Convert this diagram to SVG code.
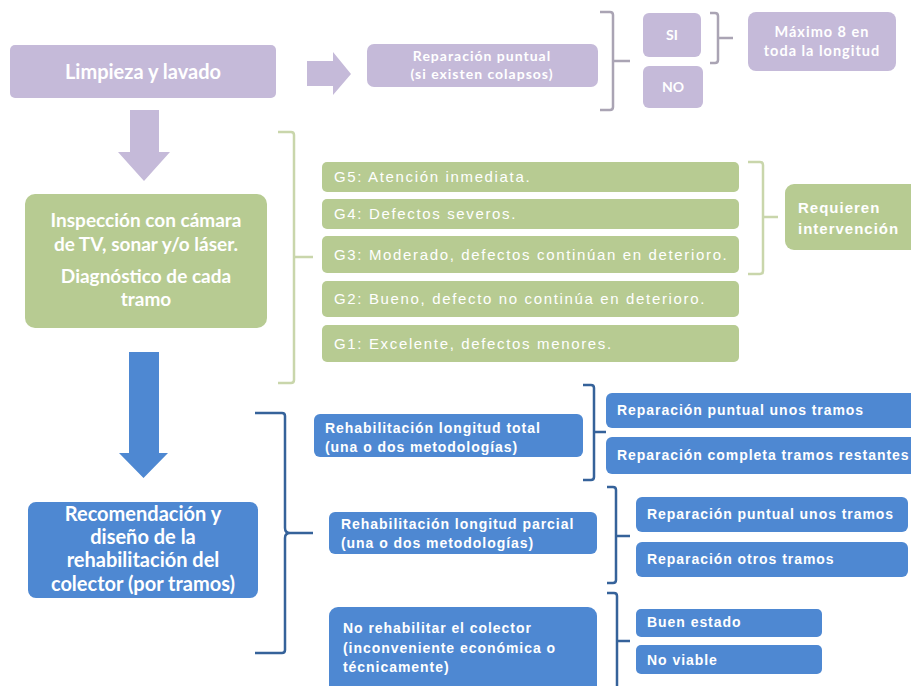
<svg xmlns="http://www.w3.org/2000/svg" width="911" height="686" viewBox="0 0 911 686">
<style>
.lav{fill:#c5bad9}
.grn{fill:#b7cb92}
.blu{fill:#4e88d2}
.t{font-family:Lato,"Liberation Sans",sans-serif;font-weight:bold;fill:#fff;text-anchor:middle}
.s{font-family:"Liberation Sans",Arial,sans-serif;font-weight:bold;fill:#fff;font-size:14px;letter-spacing:0.95px}
.g{font-family:"Liberation Sans",Arial,sans-serif;fill:#fff;font-size:15px;letter-spacing:1.65px}
.r{font-family:"Liberation Sans",Arial,sans-serif;font-weight:bold;fill:#fff;font-size:15px;letter-spacing:1px}
.br{fill:none;stroke-width:2.5;stroke-linejoin:round}
.bl{stroke:#aaa4b4}
.bg{stroke:#c9d6ab}
.bb{stroke:#35629a}
</style>
<rect width="911" height="686" fill="#fff"/>
<g id="connectors">
  <polygon class="lav" points="307,61 333,61 333,52 351,74 333,95 333,86 307,86"/>
  <polygon class="lav" points="130,110 159,110 159,152 170,152 144,181 118,152 130,152"/>
  <polygon class="blu" points="129,352 159,352 159,453 168,453 143.5,478 119,453 129,453"/>
  <path class="br bl" d="M600,12 H610 Q613,12 613,15 V107 Q613,110 610,110 H600 M613,61 H630"/>
  <path class="br bl" d="M710,13 H715 Q718,13 718,16 V60 Q718,63 715,63 H710 M718,38 H733"/>
  <path class="br bg" d="M278,132 H291 Q294,132 294,135 V380 Q294,383 291,383 H278 M294,257 H313"/>
  <path class="br bg" d="M748,162 H760 Q763,162 763,165 V271 Q763,274 760,274 H748 M763,217 H778"/>
  <path class="br bb" d="M255,413 H282 Q285,413 285,416 V528 Q285,533 290,533 H313 M290,533 Q285,533 285,538 V650 Q285,653 282,653 H255"/>
  <path class="br bb" d="M583,385 H591 Q594,385 594,388 V477 Q594,480 591,480 H583 M594,432 H606"/>
  <path class="br bb" d="M607,487 H613 Q616,487 616,490 V580 Q616,583 613,583 H607 M616,536 H630"/>
  <path class="br bb" d="M607,593 H614 Q617,593 617,596 V690 M617,641 H630"/>
</g>
<g id="limpieza">
  <rect class="lav" x="10" y="45" width="266" height="53" rx="5"/>
  <text class="t" x="143" y="79" font-size="20">Limpieza y lavado</text>
</g>
<g id="reparacion-puntual">
  <rect class="lav" x="367" y="44" width="231" height="43" rx="7"/>
  <text class="t" x="482" y="61" font-size="14" letter-spacing="1">Reparación puntual</text>
  <text class="t" x="482" y="79" font-size="14" letter-spacing="1">(si existen colapsos)</text>
</g>
<g id="si">
  <rect class="lav" x="643" y="13" width="58" height="44" rx="6"/>
  <text class="t" x="672" y="40" font-size="14">SI</text>
</g>
<g id="no">
  <rect class="lav" x="643" y="66" width="60" height="42" rx="6"/>
  <text class="t" x="673" y="92" font-size="14">NO</text>
</g>
<g id="maximo">
  <rect class="lav" x="748" y="12" width="148" height="59" rx="8"/>
  <text class="t" x="822" y="37" font-size="14.5" letter-spacing="1">Máximo 8 en</text>
  <text class="t" x="822" y="56" font-size="14.5" letter-spacing="1">toda la longitud</text>
</g>
<g id="inspeccion">
  <rect class="grn" x="25" y="194" width="242" height="134" rx="10"/>
  <text class="t" x="146" y="227" font-size="19">Inspección con cámara</text>
  <text class="t" x="146" y="251" font-size="19">de TV, sonar y/o láser.</text>
  <text class="t" x="146" y="283" font-size="19">Diagnóstico de cada</text>
  <text class="t" x="146" y="306" font-size="19">tramo</text>
</g>
<g id="g5">
  <rect class="grn" x="322" y="162" width="417" height="30" rx="5"/>
  <text class="g" x="334" y="182">G5: Atención inmediata.</text>
</g>
<g id="g4">
  <rect class="grn" x="322" y="199" width="417" height="30" rx="5"/>
  <text class="g" x="334" y="219">G4: Defectos severos.</text>
</g>
<g id="g3">
  <rect class="grn" x="322" y="236" width="417" height="37" rx="5"/>
  <text class="g" x="334" y="260">G3: Moderado, defectos continúan en deterioro.</text>
</g>
<g id="g2">
  <rect class="grn" x="322" y="281" width="417" height="36" rx="5"/>
  <text class="g" x="334" y="304">G2: Bueno, defecto no continúa en deterioro.</text>
</g>
<g id="g1">
  <rect class="grn" x="322" y="325" width="417" height="37" rx="5"/>
  <text class="g" x="334" y="349">G1: Excelente, defectos menores.</text>
</g>
<g id="requieren">
  <rect class="grn" x="785" y="184" width="140" height="66" rx="9"/>
  <text class="r" x="798" y="213">Requieren</text>
  <text class="r" x="798" y="234">intervención</text>
</g>
<g id="recomendacion">
  <rect class="blu" x="28" y="502" width="230" height="96" rx="8"/>
  <text class="t" x="143" y="521" font-size="20">Recomendación y</text>
  <text class="t" x="143" y="544" font-size="20">diseño de la</text>
  <text class="t" x="143" y="567" font-size="20">rehabilitación del</text>
  <text class="t" x="143" y="591" font-size="20">colector (por tramos)</text>
</g>
<g id="rehab-total">
  <rect class="blu" x="314" y="414" width="269" height="43" rx="6"/>
  <text class="s" x="325" y="433">Rehabilitación longitud total</text>
  <text class="s" x="325" y="452">(una o dos metodologías)</text>
</g>
<g id="rep-puntual-1">
  <rect class="blu" x="606" y="393" width="315" height="35" rx="6"/>
  <text class="s" x="617" y="415">Reparación puntual unos tramos</text>
</g>
<g id="rep-completa">
  <rect class="blu" x="606" y="437" width="315" height="37" rx="6"/>
  <text class="s" x="617" y="460">Reparación completa tramos restantes</text>
</g>
<g id="rehab-parcial">
  <rect class="blu" x="329" y="512" width="268" height="42" rx="6"/>
  <text class="s" x="341" y="529">Rehabilitación longitud parcial</text>
  <text class="s" x="341" y="548">(una o dos metodologías)</text>
</g>
<g id="rep-puntual-2">
  <rect class="blu" x="636" y="497" width="272" height="35" rx="6"/>
  <text class="s" x="647" y="519">Reparación puntual unos tramos</text>
</g>
<g id="rep-otros">
  <rect class="blu" x="636" y="542" width="272" height="35" rx="6"/>
  <text class="s" x="647" y="564">Reparación otros tramos</text>
</g>
<g id="no-rehabilitar">
  <rect class="blu" x="329" y="607" width="268" height="90" rx="9"/>
  <text class="s" x="343" y="633">No rehabilitar el colector</text>
  <text class="s" x="343" y="653">(inconveniente económica o</text>
  <text class="s" x="343" y="672">técnicamente)</text>
</g>
<g id="buen-estado">
  <rect class="blu" x="636" y="609" width="186" height="28" rx="5"/>
  <text class="s" x="647" y="627">Buen estado</text>
</g>
<g id="no-viable">
  <rect class="blu" x="636" y="645" width="186" height="29" rx="5"/>
  <text class="s" x="647" y="665">No viable</text>
</g>
</svg>
